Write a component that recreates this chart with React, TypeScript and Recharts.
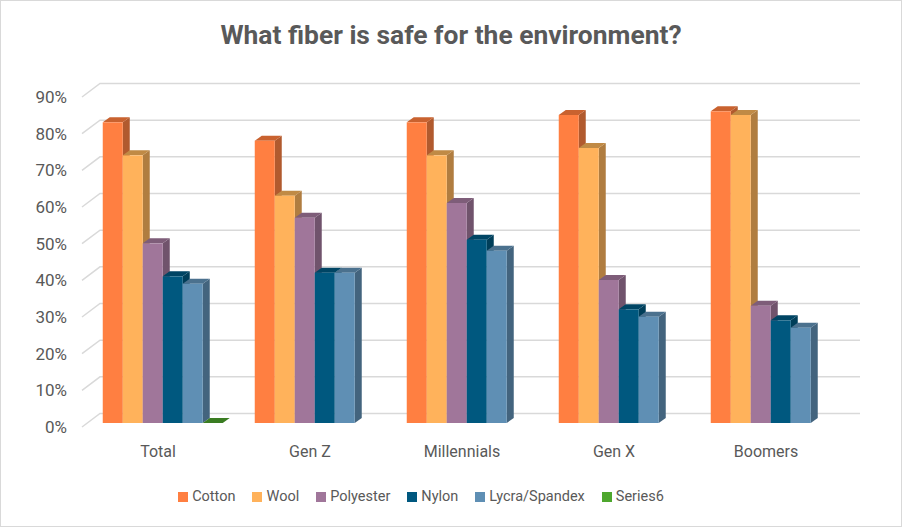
import React from "react";
import {Bar, BarChart, CartesianGrid, Legend, XAxis, YAxis} from "recharts";

const categories = ["Total", "Gen Z", "Millennials", "Gen X", "Boomers"];
const cotton = [82, 77, 82, 84, 85];
const wool = [73, 62, 73, 75, 84];
const polyester = [49, 56, 60, 39, 32];
const nylon = [40, 41, 50, 31, 28];
const lycra = [38, 41, 47, 29, 26];
const series6 = [0, null, null, null, null];
const yTicks = [0, 10, 20, 30, 40, 50, 60, 70, 80, 90];

const data = categories.map((name, i) => ({
  name,
  cotton: cotton[i],
  wool: wool[i],
  polyester: polyester[i],
  nylon: nylon[i],
  lycra: lycra[i],
  series6: series6[i],
}));

const FONT = "Roboto, sans-serif";

// fake 3d: front face, side and top of each column
const box = (front: string, side: string, top: string) => (props: any) => {
  const {x, y, width, height, value} = props;
  if (value === null || value === undefined) return <g />;
  const fx = x + 5.5;
  const fy = y - 4;
  const dx = 7;
  const dy = 5;
  return (
    <g>
      <polygon points={`${fx + width},${fy} ${fx + width + dx},${fy - dy} ${fx + width + dx},${fy + height - dy} ${fx + width},${fy + height}`} fill={side} />
      <polygon points={`${fx},${fy} ${fx + dx},${fy - dy} ${fx + width + dx},${fy - dy} ${fx + width},${fy}`} fill={top} />
      <rect x={fx} y={fy} width={width} height={height} fill={front} />
    </g>
  );
};

// gridline runs along the floor/side wall and then the back wall
const gridLine = (props: any) => {
  const {x1, y1, x2, y2} = props;
  return (
    <polyline
      key={props.key ?? `g${y1}`}
      points={`${x1},${y1} ${x1 + 18},${y1 - 13.5} ${x2 + 18},${y2 - 13.5}`}
      fill="none"
      stroke="#d9d9d9"
      strokeWidth={1.5}
    />
  );
};

const legendContent = (props: any) => (
  <div style={{display: "flex", justifyContent: "center", gap: 17, fontFamily: FONT, fontSize: 14.5, color: "#595959", lineHeight: "20px"}}>
    {props.payload.map((item: any) => (
      <div key={item.value} style={{display: "flex", alignItems: "center", gap: 4}}>
        <span style={{display: "inline-block", width: 10, height: 10, background: item.color}} />
        <span>{item.value}</span>
      </div>
    ))}
  </div>
);

const App = () => {
  return (
    <div style={{position: "fixed", left: 0, top: 0, width: 902, height: 527, background: "#fff", overflow: "hidden", boxSizing: "border-box", border: "1px solid #d9d9d9"}}>
      <div style={{position: "absolute", left: 0, right: 0, top: 19, textAlign: "center", fontFamily: FONT, fontWeight: 700, fontSize: 26.4, color: "#595959"}}>
        What fiber is safe for the environment?
      </div>
      <div style={{position: "absolute", left: -1, top: -1}}>
        <BarChart
          width={902}
          height={527}
          data={data}
          margin={{top: 97, right: 60, bottom: 0, left: 0}}
          barCategoryGap={15.25}
          barGap={0}
        >
          <CartesianGrid vertical={false} horizontal={gridLine} />
          <XAxis
            dataKey="name"
            height={80}
            axisLine={false}
            tickLine={false}
            tick={{fill: "#595959", fontSize: 16, fontFamily: FONT}}
            tickMargin={13}
            interval={0}
          />
          <YAxis
            domain={[0, 90]}
            ticks={yTicks}
            width={82}
            axisLine={false}
            tickLine={false}
            tickFormatter={(v: number) => `${v}%`}
            tick={{fill: "#595959", fontSize: 17, fontFamily: FONT}}
            tickMargin={9}
          />
          <Legend
            verticalAlign="bottom"
            itemSorter={null}
            content={legendContent}
            wrapperStyle={{bottom: 20}}
          />
          <Bar dataKey="cotton" name="Cotton" fill="#FF7F41" isAnimationActive={false} shape={box("#FF7F41", "#B15A2E", "#C9622F")} />
          <Bar dataKey="wool" name="Wool" fill="#FFB25B" isAnimationActive={false} shape={box("#FFB25B", "#B07D40", "#C08A45")} />
          <Bar dataKey="polyester" name="Polyester" fill="#A0769A" isAnimationActive={false} shape={box("#A0769A", "#70536C", "#7E5D79")} />
          <Bar dataKey="nylon" name="Nylon" fill="#00587F" isAnimationActive={false} shape={box("#00587F", "#003E59", "#004564")} />
          <Bar dataKey="lycra" name="Lycra/Spandex" fill="#5F8FB4" isAnimationActive={false} shape={box("#5F8FB4", "#43647E", "#4B718E")} />
          <Bar dataKey="series6" name="Series6" fill="#4EA72E" isAnimationActive={false} shape={box("#4EA72E", "#37751F", "#3A7C22")} />
        </BarChart>
      </div>
    </div>
  );
};

export default App;
